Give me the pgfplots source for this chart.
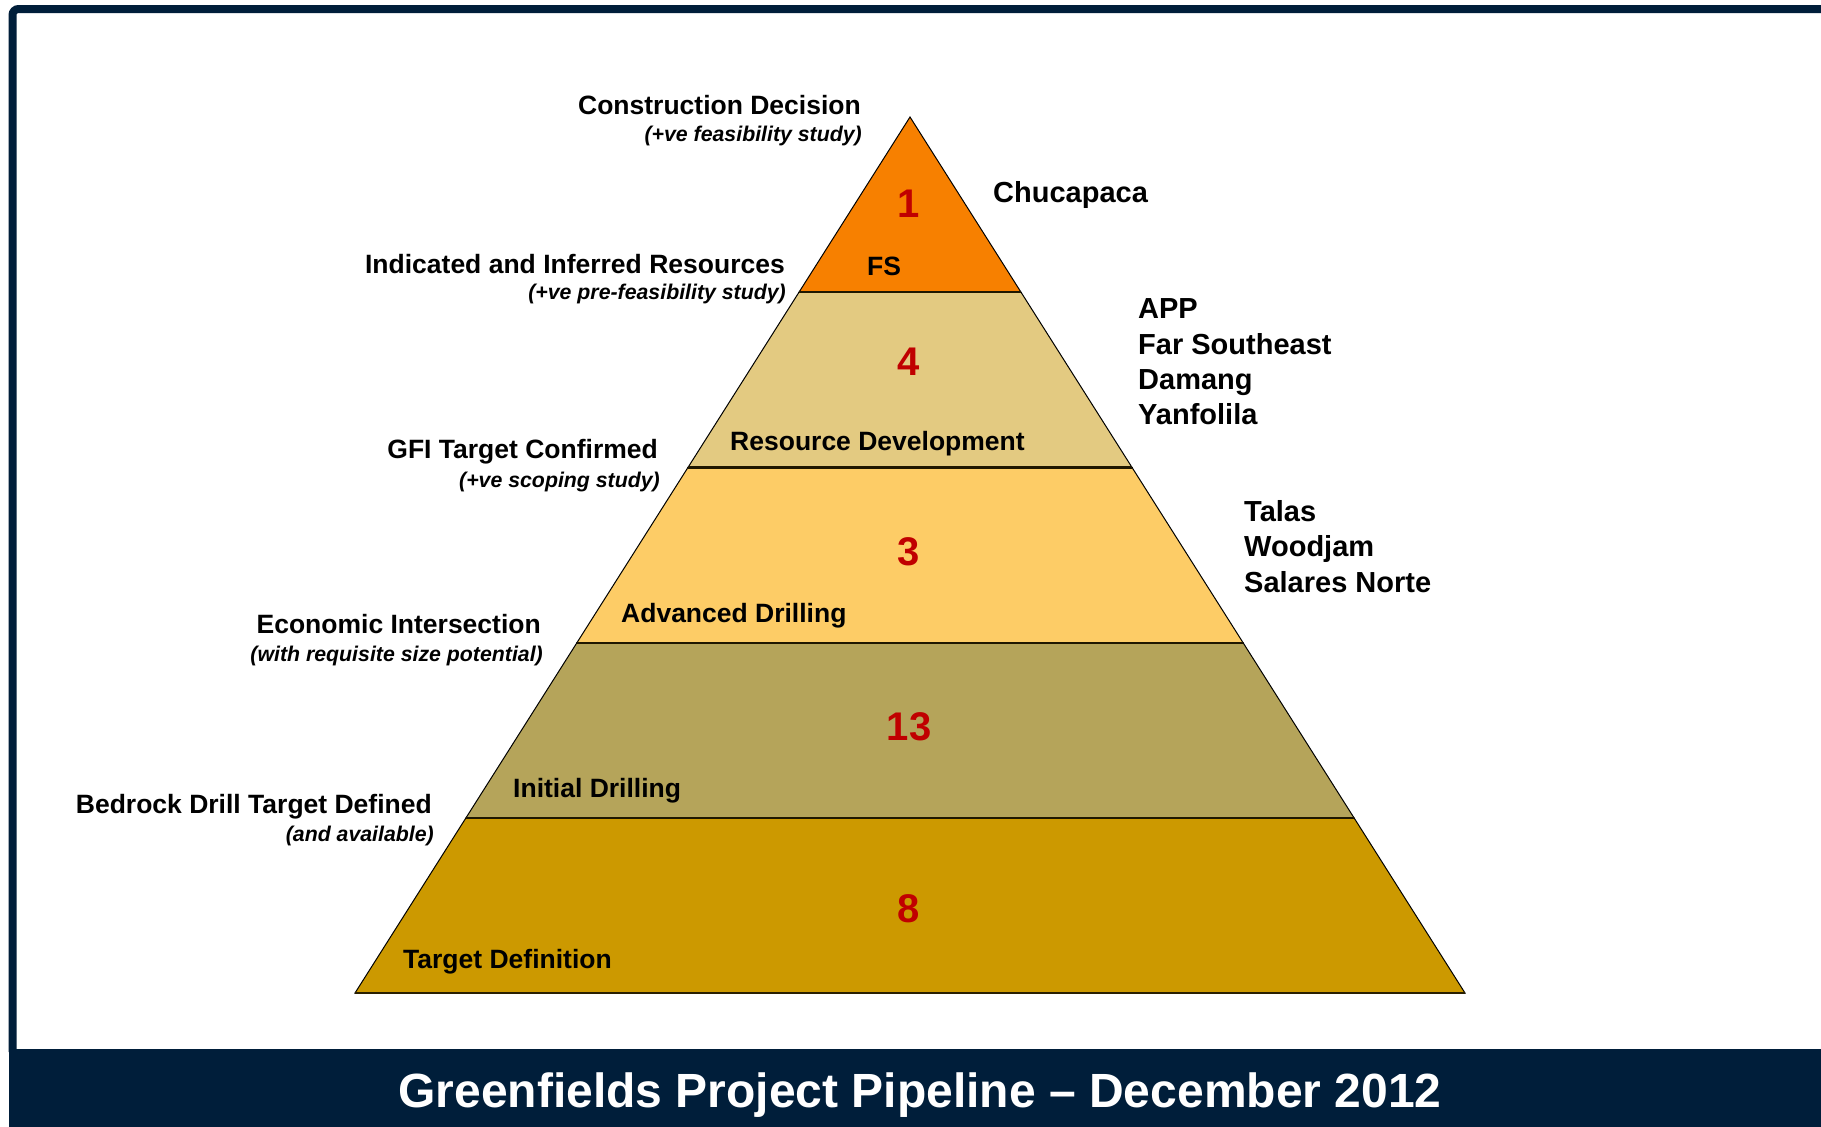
\documentclass[border=0pt]{standalone}
\usepackage{pgfplots}
\pgfplotsset{compat=1.18}
\usepackage{fontspec}
\setmainfont{Liberation Sans}

\definecolor{navy}{RGB}{0,30,58}
\definecolor{tierA}{RGB}{247,128,0}
\definecolor{tierB}{RGB}{227,202,129}
\definecolor{tierC}{RGB}{253,204,102}
\definecolor{tierD}{RGB}{181,164,90}
\definecolor{tierE}{RGB}{204,153,0}
\definecolor{numred}{RGB}{192,0,0}

% font sizes in px (1px = 1pt here)
\newcommand\lbig{\fontsize{26.5}{30}\selectfont\bfseries}
\newcommand\lsub{\fontsize{21.3}{26}\selectfont\bfseries\itshape}
\newcommand\lprj{\fontsize{29}{34}\selectfont\bfseries}
\newcommand\lnum{\fontsize{40}{44}\selectfont\bfseries\color{numred}}

\begin{document}
\begin{tikzpicture}
\begin{axis}[
  width=1821pt, height=1127pt,
  scale only axis,
  xmin=0, xmax=1821, ymin=0, ymax=1127,
  y dir=reverse,
  hide axis,
  clip=false,
]
\fill[white] (axis cs:0,0) rectangle (axis cs:1821,1127);

% pyramid tiers (pixel coordinates)
\addplot[fill=tierE, draw=black, line width=1pt] coordinates
  {(466,817.8) (1354,817.8) (1465,993) (355,993)} -- cycle;
\addplot[fill=tierD, draw=black, line width=1pt] coordinates
  {(577,642.6) (1243,642.6) (1354,817.8) (466,817.8)} -- cycle;
\addplot[fill=tierC, draw=black, line width=1pt] coordinates
  {(688,467.4) (1132,467.4) (1243,642.6) (577,642.6)} -- cycle;
\addplot[fill=tierB, draw=black, line width=1pt] coordinates
  {(799,292.2) (1021,292.2) (1132,467.4) (688,467.4)} -- cycle;
\addplot[fill=tierA, draw=black, line width=1pt] coordinates
  {(910,117) (1021,292.2) (799,292.2)} -- cycle;
% tier boundaries
\addplot[black!85!tierE, line width=2.2pt] coordinates {(799,292.2) (1021,292.2)};
\addplot[black!85!tierE, line width=2.2pt] coordinates {(688,467.4) (1132,467.4)};
\addplot[black!85!tierE, line width=2.2pt] coordinates {(577,642.6) (1243,642.6)};
\addplot[black!85!tierE, line width=2.2pt] coordinates {(466,817.8) (1354,817.8)};
\addplot[black!80!tierE, line width=2.5pt] coordinates {(355,993) (1465,993)};

% counts
\node[anchor=base] at (axis cs:909,217) {\lnum 1};
\node[anchor=base] at (axis cs:909,375) {\lnum 4};
\node[anchor=base] at (axis cs:909,565) {\lnum 3};
\node[anchor=base] at (axis cs:909,740) {\lnum 13};
\node[anchor=base] at (axis cs:909,922) {\lnum 8};

% stage names
\node[anchor=base] at (axis cs:884,275) {\lbig FS};
\node[anchor=base west, inner sep=0pt] at (axis cs:730,450) {\lbig Resource Development};
\node[anchor=base west, inner sep=0pt] at (axis cs:621,622) {\lbig Advanced Drilling};
\node[anchor=base west, inner sep=0pt] at (axis cs:513,797) {\lbig Initial Drilling};
\node[anchor=base west, inner sep=0pt] at (axis cs:403,968) {\lbig Target Definition};

% milestones on the left
\node[anchor=base east, inner sep=0pt] at (axis cs:861,114) {\lbig Construction Decision};
\node[anchor=base east, inner sep=0pt] at (axis cs:862,141) {\lsub (+ve feasibility study)};
\node[anchor=base east, inner sep=0pt] at (axis cs:785,273) {\lbig Indicated and Inferred Resources};
\node[anchor=base east, inner sep=0pt] at (axis cs:786,299) {\lsub (+ve pre-feasibility study)};
\node[anchor=base east, inner sep=0pt] at (axis cs:658,458) {\lbig GFI Target Confirmed};
\node[anchor=base east, inner sep=0pt] at (axis cs:660,487) {\lsub (+ve scoping study)};
\node[anchor=base east, inner sep=0pt] at (axis cs:541,633) {\lbig Economic Intersection};
\node[anchor=base east, inner sep=0pt] at (axis cs:543,661) {\lsub (with requisite size potential)};
\node[anchor=base east, inner sep=0pt] at (axis cs:432,813) {\lbig Bedrock Drill Target Defined};
\node[anchor=base east, inner sep=0pt] at (axis cs:434,841) {\lsub (and available)};

% projects on the right
\node[anchor=base west, inner sep=0pt] at (axis cs:993,202) {\lprj Chucapaca};
\node[anchor=base west, inner sep=0pt] at (axis cs:1138,318) {\lprj APP};
\node[anchor=base west, inner sep=0pt] at (axis cs:1138,354) {\lprj Far Southeast};
\node[anchor=base west, inner sep=0pt] at (axis cs:1138,389) {\lprj Damang};
\node[anchor=base west, inner sep=0pt] at (axis cs:1138,424) {\lprj Yanfolila};
\node[anchor=base west, inner sep=0pt] at (axis cs:1244,521) {\lprj Talas};
\node[anchor=base west, inner sep=0pt] at (axis cs:1244,556) {\lprj Woodjam};
\node[anchor=base west, inner sep=0pt] at (axis cs:1244,592) {\lprj Salares Norte};

% frame and title band
\draw[navy, line width=8pt, rounded corners=6pt]
  (axis cs:12.5,1052) -- (axis cs:12.5,9) -- (axis cs:1821,9);
\fill[navy] (axis cs:9,1049) rectangle (axis cs:1821,1127);
\node[anchor=base, text=white] at (axis cs:920,1107)
  {\fontsize{48}{52}\selectfont\bfseries Greenfields Project Pipeline -- December 2012};
\end{axis}
\pgfresetboundingbox
\path (current axis.south west) rectangle (current axis.north east);
\end{tikzpicture}
\end{document}
